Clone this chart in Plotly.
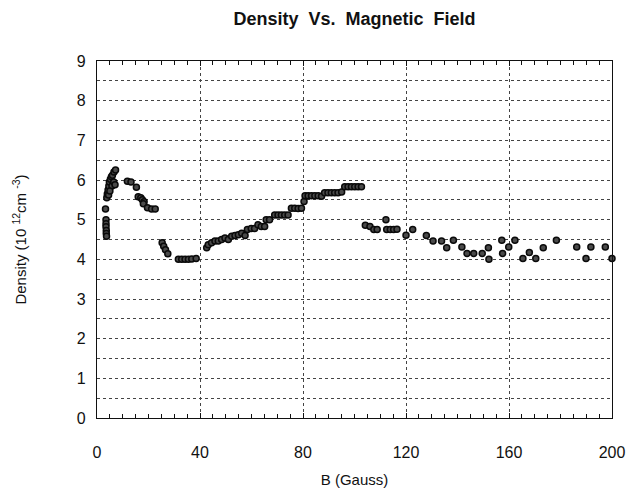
import plotly.graph_objects as go

# Magnetic field B (Gauss)
b_gauss = [
    3.5, 3.5, 3.5, 3.6, 3.6, 3.7,
    3.3,
    3.8, 4.0, 4.3, 4.6, 4.8, 5.2, 5.6, 6.0, 6.6, 7.2, 5.8, 6.5, 7.0, 4.5, 5.0,
    11.8, 13.2, 15.3,
    16.0, 17.0, 17.6, 18.3, 18.0, 19.6, 21.2, 22.6,
    25.3, 25.9, 26.6, 27.5,
    31.6, 32.9, 34.2, 35.5, 36.8, 38.5,
    42.6, 43.2, 44.5, 45.8, 47.1, 48.4, 49.7, 51.0, 52.3, 53.6, 54.9, 56.2,
    57.5, 58.4, 59.9, 61.2, 62.5, 63.8, 65.1, 65.7, 67.0,
    69.0, 70.3, 71.6, 72.9, 74.2, 75.5, 76.8, 78.1, 79.4, 80.4,
    80.8, 82.0, 83.3, 84.6, 85.9, 87.2, 88.4, 89.7, 91.0, 92.3, 93.6, 95.0,
    96.2, 97.5, 98.8, 100.1, 101.4, 102.7,
    104.2, 106.0, 107.5, 108.8, 112.2, 112.5, 113.9, 115.2, 116.5,
    120.0, 122.6, 127.9, 130.5, 133.8, 135.8, 138.4, 141.7, 143.7, 146.3,
    149.6, 152.0, 152.2, 157.2, 157.5, 159.9, 162.3, 165.4, 167.9, 170.4,
    173.3, 178.4, 186.3, 189.9, 191.8, 197.4, 200.0,
]

# Density (10^12 cm^-3)
density = [
    5.0, 4.9, 4.82, 4.73, 4.65, 4.58,
    5.27,
    5.55, 5.65, 5.75, 5.85, 5.95, 6.02, 6.08, 6.12, 6.2, 6.25, 5.85, 5.95, 5.88, 5.62, 5.72,
    5.97, 5.95, 5.82,
    5.58, 5.55, 5.5, 5.45, 5.4, 5.3, 5.27, 5.27,
    4.42, 4.33, 4.24, 4.14,
    4.0, 4.0, 4.0, 4.0, 4.01, 4.02,
    4.29, 4.37, 4.42, 4.46, 4.46, 4.5, 4.54, 4.5, 4.58, 4.6, 4.62, 4.66,
    4.6, 4.75, 4.78, 4.78, 4.87, 4.83, 4.83, 5.0, 5.0,
    5.12, 5.12, 5.12, 5.12, 5.12, 5.29, 5.29, 5.28, 5.29, 5.46,
    5.6, 5.6, 5.6, 5.6, 5.6, 5.59, 5.68, 5.68, 5.68, 5.68, 5.68, 5.7,
    5.83, 5.83, 5.83, 5.83, 5.83, 5.83,
    4.86, 4.83, 4.75, 4.75, 5.0, 4.75, 4.75, 4.75, 4.76,
    4.61, 4.75, 4.6, 4.46, 4.46, 4.29, 4.48, 4.31, 4.15, 4.15,
    4.15, 4.29, 4.0, 4.48, 4.15, 4.31, 4.48, 4.02, 4.17, 4.02,
    4.29, 4.48, 4.31, 4.02, 4.31, 4.31, 4.02,
]

x_ticks = [0, 40, 80, 120, 160, 200]
y_ticks = [0, 1, 2, 3, 4, 5, 6, 7, 8, 9]

FONT = "Liberation Sans, Arial, sans-serif"
INK = "#111111"

fig = go.Figure()
fig.add_trace(go.Scatter(
    x=b_gauss, y=density, mode="markers",
    marker=dict(symbol="circle", size=6, color="#4a4a4a",
                line=dict(color="#0a0a0a", width=1.5)),
    showlegend=False, cliponaxis=False,
))

fig.update_layout(
    width=638, height=498,
    margin=dict(l=97, r=26, t=61, b=76),
    paper_bgcolor="white", plot_bgcolor="white",
    font=dict(family=FONT, color=INK),
    title=dict(text="<b>Density  Vs.  Magnetic  Field</b>",
               x=0.5, xref="paper", xanchor="center",
               y=0.962, yref="container", yanchor="middle",
               font=dict(size=18, family=FONT, color=INK)),
)

fig.update_xaxes(
    range=[0, 200], tickvals=x_ticks, ticktext=[str(v) for v in x_ticks],
    showgrid=True, gridcolor="#444444", gridwidth=1, griddash="dot",
    showline=True, linecolor=INK, linewidth=1.2, mirror="ticks",
    ticks="inside", ticklen=5, tickcolor=INK,
    minor=dict(dtick=5, ticks="inside", ticklen=4, tickcolor=INK, showgrid=False),
    tickfont=dict(size=16, family=FONT, color=INK),
    ticklabelstandoff=20,
    title=dict(text="B (Gauss)", font=dict(size=15, family=FONT, color=INK), standoff=14),
    zeroline=False,
)

fig.update_yaxes(
    range=[0, 9], tickvals=y_ticks, ticktext=[str(v) for v in y_ticks],
    showgrid=True, gridcolor="#444444", gridwidth=1, griddash="dot",
    minor=dict(dtick=0.5, showgrid=True, gridcolor="#444444", gridwidth=1, griddash="dot"),
    showline=True, linecolor=INK, linewidth=1.2, mirror=True,
    ticks="", tickfont=dict(size=16, family=FONT, color=INK),
    ticklabelstandoff=7,
    title=dict(text="Density (10 <sup>12</sup>cm <sup>-3</sup>)",
               font=dict(size=15, family=FONT, color=INK), standoff=46),
    zeroline=False,
)

fig.write_html("out.html")
